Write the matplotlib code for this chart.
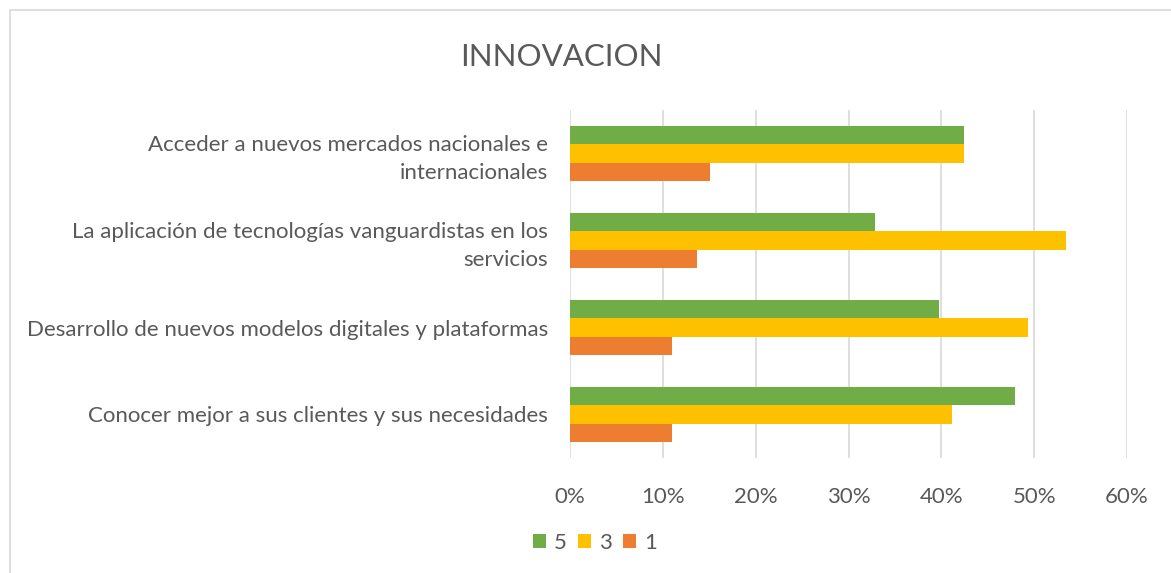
import matplotlib
matplotlib.use("Agg")
import matplotlib.pyplot as plt
from matplotlib.patches import Rectangle
import numpy as np

plt.rcParams['font.family'] = ['Lato', 'DejaVu Sans']

categories = [
    "Acceder a nuevos mercados nacionales e\ninternacionales",
    "La aplicación de tecnologías vanguardistas en los\nservicios",
    "Desarrollo de nuevos modelos digitales y plataformas",
    "Conocer mejor a sus clientes y sus necesidades",
]
series_names = ["5", "3", "1"]
values_5 = [0.4247, 0.3288, 0.3973, 0.4795]
values_3 = [0.4247, 0.5342, 0.4932, 0.4110]
values_1 = [0.1507, 0.1370, 0.1096, 0.1096]
colors = ["#70AD47", "#FFC000", "#ED7D31"]
xticks = [0, 0.1, 0.2, 0.3, 0.4, 0.5, 0.6]
xticklabels = ["0%", "10%", "20%", "30%", "40%", "50%", "60%"]

W, H = 1171, 573
fig = plt.figure(figsize=(W/100, H/100), dpi=100)
fig.patch.set_facecolor("white")

# outer chart border
fig.patches.append(Rectangle((10/W, -0.1), 1.2, (H-10)/H + 0.1, transform=fig.transFigure,
                             fill=False, edgecolor="#D9D9D9", linewidth=1.2))

left, right = 570/W, 1127/W
top, bottom = 1 - 110/H, 1 - 458/H
ax = fig.add_axes([left, bottom, right-left, top-bottom])

n = len(categories)
y = np.arange(n)[::-1].astype(float)  # top category at top
h = 0.207
all_vals = [values_5, values_3, values_1]
for i, (vals, c, name) in enumerate(zip(all_vals, colors, series_names)):
    ax.barh(y + h*(1 - i), vals, height=h, color=c, label=name, zorder=3)

ax.set_xlim(0, 0.6)
ax.set_ylim(-0.5, n - 0.5)
ax.set_xticks(xticks)
ax.set_xticklabels(xticklabels, fontsize=16, color="#595959")
ax.set_yticks(y)
ax.set_yticklabels(categories, fontsize=16, color="#595959", linespacing=1.45)
ax.grid(axis="x", color="#D9D9D9", linewidth=1.2, zorder=0)
for s in ax.spines.values():
    s.set_visible(False)
ax.tick_params(axis="y", length=0, pad=16)
ax.tick_params(axis="x", length=0, pad=21)

fig.text(561/W, 1 - 57/H, "INNOVACION", ha="center", va="center",
         fontsize=22.5, color="#595959")

leg = fig.legend(loc="center", bbox_to_anchor=(595/W, 1 - 543/H), ncol=3, frameon=False,
                 fontsize=16, handlelength=0.6, handleheight=0.6, handletextpad=0.35,
                 columnspacing=0.5, labelcolor="#595959")

fig.savefig("out.png", dpi=100)
